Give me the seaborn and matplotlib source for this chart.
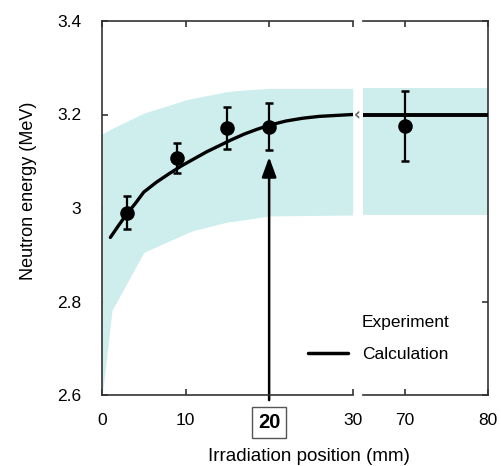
import numpy as np
import pandas as pd
import matplotlib
matplotlib.use("Agg")
import matplotlib.pyplot as plt
from matplotlib.lines import Line2D
import seaborn as sns

# ---------------- data ----------------
x_exp = [3, 9, 15, 20]
y_exp = [2.99, 3.107, 3.171, 3.174]
err_exp = [0.035, 0.033, 0.044, 0.05]

x_exp_far = [70]
y_exp_far = [3.175]
err_exp_far = [0.075]

x_calc = [1, 2, 3, 4, 5, 6.5, 8, 9.5, 11, 12.5, 14, 15.5, 17, 18.5, 20, 22, 24, 26, 28, 30]
y_calc = [2.937, 2.963, 2.988, 3.01, 3.034, 3.055, 3.073, 3.09, 3.105, 3.12, 3.133,
          3.146, 3.158, 3.168, 3.177, 3.186, 3.192, 3.196, 3.198, 3.2]
x_calc_far = [65, 80]
y_calc_far = [3.2, 3.2]

band_x = [0, 0.2, 1, 1.2, 5, 10, 11, 15, 16, 20, 30]
band_hi = [3.158, 3.16, 3.168, 3.17, 3.203, 3.231, 3.235, 3.249, 3.251, 3.256, 3.256]
band_lo = [2.6, 2.625, 2.75, 2.781, 2.905, 2.945, 2.952, 2.97, 2.972, 2.983, 2.985]
band_x_far = [65, 80]
band_hi_far = [3.256, 3.256]
band_lo_far = [2.985, 2.985]

xticks_left = [0, 10, 20, 30]
xticklabels_left = ["0", "10", "20", "30"]
xticks_right = [70, 80]
xticklabels_right = ["70", "80"]
yticks = [2.6, 2.8, 3.0, 3.2, 3.4]
yticklabels = ["2.6", "2.8", "3", "3.2", "3.4"]
arrow_x = 20
arrow_tip = 3.109

# ---------------- style ----------------
sns.set_style("ticks")
plt.rcParams["font.family"] = ["Liberation Sans", "DejaVu Sans"]
plt.rcParams["text.color"] = "black"
plt.rcParams["axes.labelcolor"] = "black"
plt.rcParams["xtick.labelcolor"] = "black"
plt.rcParams["ytick.labelcolor"] = "black"

W, H = 501, 466
fig = plt.figure(figsize=(W / 100, H / 100), dpi=100)

def frac(x0, x1, ytop, ybot):
    return [x0 / W, 1 - ybot / H, (x1 - x0) / W, (ybot - ytop) / H]

axL = fig.add_axes(frac(102, 352.7, 21, 395))
axR = fig.add_axes(frac(363.3, 487.7, 21, 395))
axR.patch.set_alpha(0)

band_color = "#cdeeec"
spine_col = "#333333"
fs = 12.5

df_calc = pd.DataFrame({"x": x_calc, "y": y_calc})
df_exp = pd.DataFrame({"x": x_exp, "y": y_exp})
df_calc_far = pd.DataFrame({"x": x_calc_far, "y": y_calc_far})
df_exp_far = pd.DataFrame({"x": x_exp_far, "y": y_exp_far})

# left panel
axL.fill_between(band_x, band_lo, band_hi, color=band_color, lw=0, zorder=1)
sns.lineplot(data=df_calc, x="x", y="y", ax=axL, color="black", lw=2.4, zorder=3)
axL.errorbar(x_exp, y_exp, yerr=err_exp, fmt="none", ecolor="black",
             elinewidth=1.6, capsize=2.6, capthick=1.8, zorder=4)
sns.scatterplot(data=df_exp, x="x", y="y", ax=axL, color="black", s=110,
                edgecolor="black", linewidth=0, zorder=5)

# right panel
axR.fill_between(band_x_far, band_lo_far, band_hi_far, color=band_color, lw=0, zorder=1)
sns.lineplot(data=df_calc_far, x="x", y="y", ax=axR, color="black", lw=2.8, zorder=3)
axR.errorbar(x_exp_far, y_exp_far, yerr=err_exp_far, fmt="none", ecolor="black",
             elinewidth=1.6, capsize=2.6, capthick=1.8, zorder=4)
sns.scatterplot(data=df_exp_far, x="x", y="y", ax=axR, color="black", s=110,
                edgecolor="black", linewidth=0, zorder=5)

for ax in (axL, axR):
    ax.set_ylim(2.6, 3.4)
    ax.set_xlabel("")
    ax.set_ylabel("")
    for s in ax.spines.values():
        s.set_color(spine_col)
        s.set_linewidth(1.2)
    ax.tick_params(direction="in", length=4.5, width=1.2, color=spine_col,
                   labelsize=fs, labelcolor="black", top=True, bottom=True)

axL.set_xlim(0, 30)
axR.set_xlim(65, 80)

axL.spines["right"].set_visible(False)
axR.spines["left"].set_visible(False)

axL.set_yticks(yticks)
axL.set_yticklabels(yticklabels)
axL.tick_params(axis="y", left=True, right=False, pad=15)
axR.set_yticks(yticks)
axR.tick_params(axis="y", left=False, right=True, labelleft=False, labelright=False)

axL.set_xticks(xticks_left)
axL.set_xticklabels(xticklabels_left)
axR.set_xticks(xticks_right)
axR.set_xticklabels(xticklabels_right)
axL.tick_params(axis="x", pad=13)
axR.tick_params(axis="x", pad=13)

# boxed bold "20"
for lab in axL.get_xticklabels():
    if lab.get_text() == "20":
        lab.set_fontweight("bold")
        lab.set_fontsize(14.5)
        lab.set_bbox(dict(boxstyle="square,pad=0.28", fc="white", ec="#555555", lw=1.0))

# arrow from below the axis to the calc curve
axL.annotate("", xy=(arrow_x, arrow_tip), xytext=(arrow_x, 2.589),
             xycoords="data", textcoords="data", annotation_clip=False,
             arrowprops=dict(arrowstyle="-|>,head_length=0.55,head_width=0.2",
                             mutation_scale=22, lw=1.8, color="black",
                             shrinkA=0, shrinkB=0), zorder=2)

# axis labels
axL.set_ylabel("Neutron energy (MeV)", fontsize=fs + 0.5)
axL.yaxis.set_label_coords(-0.26, 0.545)
axL.set_xlabel("Irradiation position (mm)", fontsize=fs + 1)
axL.xaxis.set_label_coords(0.824, -0.143)

# break marker
fig.text(357.5 / W, 1 - 115 / H, "\u2039", color="#666666", fontsize=12,
         fontweight="bold", ha="center", va="center", family="DejaVu Sans")

# legend
handles = [Line2D([], [], linestyle="none"),
           Line2D([], [], color="black", lw=2.5)]
leg = fig.legend(handles, ["Experiment", "Calculation"], loc="upper left",
                 bbox_to_anchor=(308 / W, 1 - 315 / H),
                 frameon=False, fontsize=fs, handlelength=2.3, handletextpad=0.8,
                 labelspacing=0.95, borderpad=0, borderaxespad=0)

fig.savefig("out.png", dpi=100)
